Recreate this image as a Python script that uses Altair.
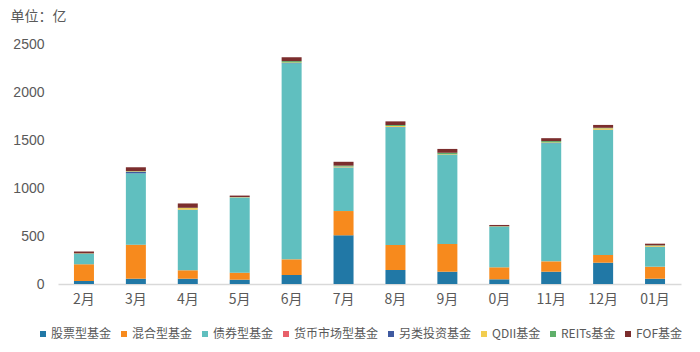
import altair as alt
import pandas as pd

months = ["2月", "3月", "4月", "5月", "6月", "7月", "8月", "9月", "0月", "11月", "12月", "01月"]
series = ["股票型基金", "混合型基金", "债券型基金", "货币市场型基金", "另类投资基金", "QDII基金", "REITs基金", "FOF基金"]
colors = ["#2178A6", "#F78A1D", "#60BFBF", "#E8606A", "#3F5AA0", "#F2CD4F", "#5FAF6A", "#7B2D2D"]

stock = [30, 55, 55, 45, 94, 507, 146, 128, 49, 128, 222, 55]
mixed = [175, 355, 88, 73, 163, 253, 260, 289, 125, 108, 80, 125]
bond = [107, 743, 628, 781, 2042, 452, 1227, 927, 420, 1230, 1302, 205]
money = [0, 0, 0, 0, 0, 0, 0, 0, 0, 0, 0, 0]
alternative = [3, 15, 3, 2, 3, 3, 3, 3, 3, 3, 3, 3]
qdii = [3, 5, 17, 3, 5, 8, 10, 5, 3, 5, 15, 10]
reits = [2, 3, 3, 2, 15, 10, 10, 15, 3, 15, 5, 5]
fof = [18, 40, 45, 15, 40, 40, 38, 40, 12, 30, 30, 17]

values = [stock, mixed, bond, money, alternative, qdii, reits, fof]
rows = []
for si, (name, vals) in enumerate(zip(series, values)):
    for mi, m in enumerate(months):
        rows.append({"month": m, "series": name, "value": vals[mi], "idx": si})
df = pd.DataFrame(rows)

font = "Noto Sans CJK SC"
numfont = "Liberation Sans"

chart = alt.Chart(df).mark_bar(size=20).encode(
    x=alt.X("month:N", sort=months, scale=alt.Scale(paddingInner=0.6, paddingOuter=0.3),
            axis=alt.Axis(title=None, labelAngle=0, ticks=False, domainColor="#D9D9D9",
                          domainWidth=1.5, labelPadding=8, labelFontSize=14,
                          labelColor="#595959", labelFont=font)),
    y=alt.Y("value:Q", stack="zero", scale=alt.Scale(domain=[0, 2500], nice=False),
            axis=alt.Axis(title="单位：亿", titleAngle=0, titleX=-48, titleY=-28,
                          titleAlign="left", titleBaseline="middle", titleFontSize=14,
                          titleFontWeight="normal", titleColor="#595959", titleFont=font,
                          values=[0, 500, 1000, 1500, 2000, 2500], format="d", grid=False,
                          domain=False, ticks=False, labelPadding=14, labelFontSize=14,
                          labelColor="#595959", labelFont=numfont)),
    color=alt.Color("series:N", scale=alt.Scale(domain=series, range=colors),
                    legend=alt.Legend(title=None, orient="none", direction="horizontal",
                                      legendX=-21, legendY=284, symbolType="square",
                                      symbolSize=36, symbolStrokeWidth=0, labelFontSize=12,
                                      labelColor="#595959", labelFont=font, columnPadding=6,
                                      labelOffset=2, columns=8)),
    order=alt.Order("idx:Q", sort="ascending"),
).properties(
    width=623, height=240,
    autosize=alt.AutoSizeParams(type="none"),
    padding={"left": 58, "top": 44, "right": 19, "bottom": 68},
).configure_view(stroke=None)

chart.save("out.html", embed_options={"renderer": "svg", "actions": False})
